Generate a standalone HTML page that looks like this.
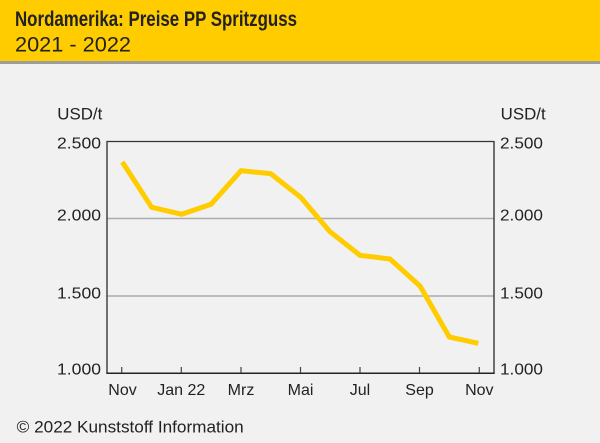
<!DOCTYPE html>
<html>
<head>
<meta charset="utf-8">
<style>
  html, body { margin: 0; padding: 0; }
  body { width: 600px; height: 443px; overflow: hidden; background: #f0f1f0; }
  svg { display: block; }
  text { font-family: "Liberation Sans", "DejaVu Sans", sans-serif; fill: #222; }
</style>
</head>
<body>
<svg width="600" height="443" viewBox="0 0 600 443" xmlns="http://www.w3.org/2000/svg">
  <rect x="0" y="0" width="600" height="443" fill="#f0f1f0"/>
  <!-- header -->
  <rect x="0" y="0" width="600" height="61" fill="#ffcc00"/>
  <rect x="0" y="61" width="600" height="3" fill="#9c9c9c"/>
  <text x="15" y="26" font-size="21" font-weight="bold" textLength="282" lengthAdjust="spacingAndGlyphs">Nordamerika: Preise PP Spritzguss</text>
  <text x="15" y="51.5" font-size="21.5" textLength="116" lengthAdjust="spacingAndGlyphs">2021 - 2022</text>

  <!-- gridlines -->
  <line x1="107" y1="218.5" x2="494" y2="218.5" stroke="#ababab" stroke-width="1.5"/>
  <line x1="107" y1="296" x2="494" y2="296" stroke="#ababab" stroke-width="1.5"/>

  <!-- frame -->
  <line x1="106.5" y1="141.5" x2="494" y2="141.5" stroke="#333" stroke-width="1.3"/>
  <line x1="107" y1="141" x2="107" y2="374" stroke="#444" stroke-width="1.5"/>
  <line x1="494" y1="141" x2="494" y2="374" stroke="#444" stroke-width="1.5"/>
  <line x1="106.5" y1="373.3" x2="494.5" y2="373.3" stroke="#222" stroke-width="1.5"/>

  <!-- ticks -->
  <g stroke="#444" stroke-width="1.2">
    <line x1="121.7" y1="367" x2="121.7" y2="373"/>
    <line x1="181.3" y1="367" x2="181.3" y2="373"/>
    <line x1="241" y1="367" x2="241" y2="373"/>
    <line x1="300.5" y1="367" x2="300.5" y2="373"/>
    <line x1="360" y1="367" x2="360" y2="373"/>
    <line x1="419.5" y1="367" x2="419.5" y2="373"/>
    <line x1="479.3" y1="367" x2="479.3" y2="373"/>
  </g>

  <!-- axis titles -->
  <text x="57.3" y="119.3" font-size="16.5" textLength="45" lengthAdjust="spacingAndGlyphs">USD/t</text>
  <text x="500.7" y="119.3" font-size="16.5" textLength="45" lengthAdjust="spacingAndGlyphs">USD/t</text>

  <!-- left y labels -->
  <g font-size="16">
    <text x="57" y="148.7" textLength="44" lengthAdjust="spacingAndGlyphs">2.500</text>
    <text x="57" y="220.7" textLength="44" lengthAdjust="spacingAndGlyphs">2.000</text>
    <text x="57" y="298.3" textLength="44" lengthAdjust="spacingAndGlyphs">1.500</text>
    <text x="57" y="374.7" textLength="44" lengthAdjust="spacingAndGlyphs">1.000</text>
  </g>
  <!-- right y labels -->
  <g font-size="16">
    <text x="500" y="148.3" textLength="43" lengthAdjust="spacingAndGlyphs">2.500</text>
    <text x="500" y="220.7" textLength="43" lengthAdjust="spacingAndGlyphs">2.000</text>
    <text x="500" y="298.3" textLength="43" lengthAdjust="spacingAndGlyphs">1.500</text>
    <text x="500" y="374.7" textLength="43" lengthAdjust="spacingAndGlyphs">1.000</text>
  </g>

  <!-- x labels -->
  <g font-size="16" text-anchor="middle">
    <text x="122.5" y="395">Nov</text>
    <text x="181.3" y="395">Jan 22</text>
    <text x="241" y="395">Mrz</text>
    <text x="300.5" y="395">Mai</text>
    <text x="360" y="395">Jul</text>
    <text x="419.5" y="395">Sep</text>
    <text x="479.3" y="395">Nov</text>
  </g>

  <!-- data line -->
  <polyline fill="none" stroke="#ffcc00" stroke-width="5" stroke-linejoin="miter" stroke-linecap="butt"
    points="122.3,162 151.7,207.3 181.7,214.3 211,204.3 241,170.7 270.7,173.7 300.7,197.3 330,231.7 360,255.3 390,259 420,286 449.3,337 478.3,343.3"/>

  <!-- footer -->
  <text x="16.7" y="432.3" font-size="17" textLength="227" lengthAdjust="spacingAndGlyphs">© 2022 Kunststoff Information</text>
</svg>
</body>
</html>
